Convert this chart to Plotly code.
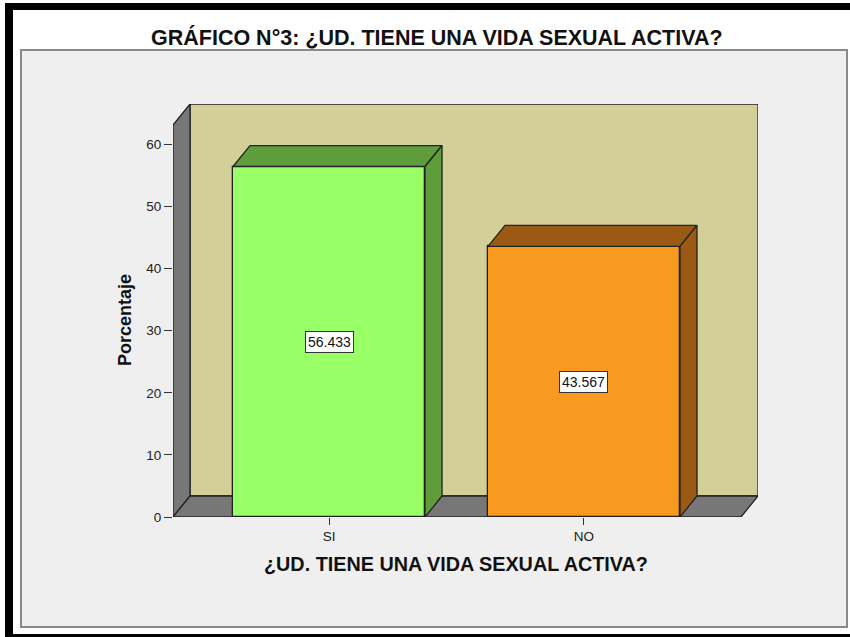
import plotly.graph_objects as go

# ---------------- data ----------------
categories = ["SI", "NO"]
values = [56.433, 43.567]
value_labels = ["56.433", "43.567"]
y_ticks = [0, 10, 20, 30, 40, 50, 60]
title_text = "GRÁFICO N°3: ¿UD. TIENE UNA VIDA SEXUAL ACTIVA?"
x_title = "¿UD. TIENE UNA VIDA SEXUAL ACTIVA?"
y_title = "Porcentaje"

# ---------------- styling ----------------
front_colors = ["#99ff66", "#f99a20"]
dark_colors = ["#5e9c3c", "#9a5a14"]
WALL_BACK = "#d3cf99"
WALL_SIDE = "#777777"
PANEL = "#efefef"
FONT = "Arial, Liberation Sans, sans-serif"

W, H = 850, 637
L, R, T, B = 173, 92, 104, 120          # plot area margins (px)
X_RANGE = [-0.6118, 1.6824]
Y_RANGE = [0, 66.5]
BAR_W = 0.753
DX = 0.0667            # depth offset in x units
DY = 3.38              # depth offset in y units
XL = X_RANGE[0]
XR = X_RANGE[1] - DX
YTOP = Y_RANGE[1] - DY

pw, ph = W - L - R, H - T - B


def px(xp):
    return (xp - L) / pw


def py(yp):
    return (H - B - yp) / ph


fig = go.Figure()

shapes = []
# outer frame (white page with black border bands)
shapes += [
    dict(type="rect", xref="paper", yref="paper", x0=px(5), x1=px(852), y0=py(3), y1=py(10),
         fillcolor="black", line_width=0, layer="below"),
    dict(type="rect", xref="paper", yref="paper", x0=px(5), x1=px(13), y0=py(3), y1=py(640),
         fillcolor="black", line_width=0, layer="below"),
    dict(type="rect", xref="paper", yref="paper", x0=px(5), x1=px(852), y0=py(634), y1=py(640),
         fillcolor="black", line_width=0, layer="below"),
    dict(type="rect", xref="paper", yref="paper", x0=px(21), x1=px(847), y0=py(50), y1=py(627),
         fillcolor=PANEL, line=dict(color="#8a8a8a", width=2), layer="below"),
]


def poly(pts):
    return "M " + " L ".join(f"{x},{y}" for x, y in pts) + " Z"


# back wall
shapes.append(dict(type="path", xref="x", yref="y", layer="below",
                   path=poly([(XL + DX, DY), (XR + DX, DY), (XR + DX, YTOP + DY), (XL + DX, YTOP + DY)]),
                   fillcolor=WALL_BACK, line=dict(color="#222", width=1.3)))
# left wall
shapes.append(dict(type="path", xref="x", yref="y", layer="below",
                   path=poly([(XL, 0), (XL + DX, DY), (XL + DX, YTOP + DY), (XL, YTOP)]),
                   fillcolor=WALL_SIDE, line=dict(color="#222", width=1.3)))
# floor
shapes.append(dict(type="path", xref="x", yref="y", layer="below",
                   path=poly([(XL, 0), (XR, 0), (XR + DX, DY), (XL + DX, DY)]),
                   fillcolor=WALL_SIDE, line=dict(color="#222", width=1.3)))

xs = list(range(len(categories)))

# bar front faces
fig.add_trace(go.Bar(x=xs, y=values, width=BAR_W,
                     marker=dict(color=front_colors, line=dict(color="#222", width=1.3)),
                     hoverinfo="skip", showlegend=False))

# bar top and side faces
for i, v in enumerate(values):
    x0, x1 = i - BAR_W / 2, i + BAR_W / 2
    top_x = [x0, x1, x1 + DX, x0 + DX, x0]
    top_y = [v, v, v + DY, v + DY, v]
    side_x = [x1, x1 + DX, x1 + DX, x1, x1]
    side_y = [0, DY, v + DY, v, 0]
    for sx, sy in ((top_x, top_y), (side_x, side_y)):
        fig.add_trace(go.Scatter(x=sx, y=sy, mode="lines", fill="toself",
                                 fillcolor=dark_colors[i], line=dict(color="#222", width=1.3),
                                 hoverinfo="skip", showlegend=False))

annotations = []
for i, v in enumerate(values):
    annotations.append(dict(x=i, y=v / 2, xref="x", yref="y", text=value_labels[i],
                            showarrow=False, bgcolor="white", bordercolor="#333", borderwidth=1,
                            borderpad=2, font=dict(family=FONT, size=14, color="#111")))

annotations += [
    dict(x=px(437), y=py(37), xref="paper", yref="paper", text=f"<b>{title_text}</b>",
         showarrow=False, font=dict(family=FONT, size=21.5, color="#111"), xanchor="center", yanchor="middle"),
    dict(x=px(456), y=py(564), xref="paper", yref="paper", text=f"<b>{x_title}</b>",
         showarrow=False, font=dict(family=FONT, size=19.8, color="#111"), xanchor="center", yanchor="middle"),
    dict(x=px(125), y=py(320), xref="paper", yref="paper", text=f"<b>{y_title}</b>", textangle=-90,
         showarrow=False, font=dict(family=FONT, size=18, color="#111"), xanchor="center", yanchor="middle"),
]

fig.update_layout(
    width=W, height=H,
    margin=dict(l=L, r=R, t=T, b=B, pad=0),
    paper_bgcolor="white",
    plot_bgcolor="rgba(0,0,0,0)",
    shapes=shapes,
    annotations=annotations,
    showlegend=False,
    bargap=0,
    xaxis=dict(range=X_RANGE, tickmode="array", tickvals=xs, ticktext=categories,
               showgrid=False, zeroline=False, showline=False,
               ticks="outside", ticklen=7, tickwidth=1, tickcolor="#333",
               tickfont=dict(family=FONT, size=13.5, color="#222"), fixedrange=True),
    yaxis=dict(range=Y_RANGE, tickmode="array", tickvals=y_ticks,
               showgrid=False, zeroline=False, showline=False,
               ticks="outside", ticklen=8, tickwidth=1, tickcolor="#333",
               tickfont=dict(family=FONT, size=13.5, color="#222"), fixedrange=True),
)

fig.write_html("out.html", config={"displayModeBar": False},
               post_script="document.body.style.margin='0px';document.body.style.padding='0px';")
